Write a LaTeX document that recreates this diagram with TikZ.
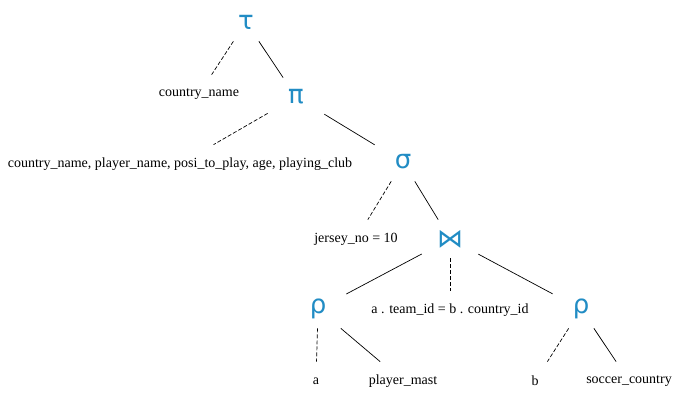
\documentclass[tikz,border=0pt]{standalone}
\usepackage{fontspec}
\setmainfont{Liberation Serif}
\newfontfamily\opfont{DejaVu Sans}
\definecolor{opblue}{RGB}{33,140,196}

\begin{document}
\begin{tikzpicture}[x=1pt, y=-1pt, line width=0.7pt,
        op/.style={text=opblue, font=\opfont\fontsize{26}{26}\selectfont,
                   minimum width=56pt, minimum height=38pt, inner sep=0pt},
        lbl/.style={font=\fontsize{14}{16}\selectfont,
                    minimum width=30pt, minimum height=38pt, inner sep=0pt},
        param/.style={dash pattern=on 4pt off 2pt}]
    % 1. Canvas size
    \useasboundingbox (0,0) rectangle (684,405);

    % 2. Operator nodes (top to bottom)
    \node[op] (tau)   at (246,22)  {τ};
    \node[op] (pi)    at (296,97)  {π};
    \node[op] (sigma) at (403,162) {σ};
    \node[op] (join)  at (450,239) {⋈};
    \node[op] (rhoA)  at (318,309) {ρ};
    \node[op] (rhoB)  at (581,309) {ρ};

    % 3. Parameters and relations
    \node[lbl] (sortkey) at (199,94)  {country\_name};
    \node[lbl] (cols)    at (180,164) {country\_name, player\_name, posi\_to\_play, age, playing\_club};
    \node[lbl] (cond)    at (356,239) {jersey\_no = 10};
    \node[lbl] (joincond) at (450,310) {a . team\_id = b . country\_id};
    \node[lbl] (aliasA)  at (316,381) {a};
    \node[lbl] (relA)    at (403,381) {player\_mast};
    \node[lbl] (aliasB)  at (535,381) {b};
    \node[lbl] (relB)    at (629,381) {soccer\_country};

    % 4. Edges: solid to children, dashed to parameters
    \foreach \a/\b in {tau/pi, pi/sigma, sigma/join, join/rhoA, join/rhoB,
                       rhoA/relA, rhoB/relB}
        \draw (\a) -- (\b);
    \foreach \a/\b in {tau/sortkey, pi/cols, sigma/cond, join/joincond,
                       rhoA/aliasA, rhoB/aliasB}
        \draw[param] (\a) -- (\b);
\end{tikzpicture}
\end{document}
